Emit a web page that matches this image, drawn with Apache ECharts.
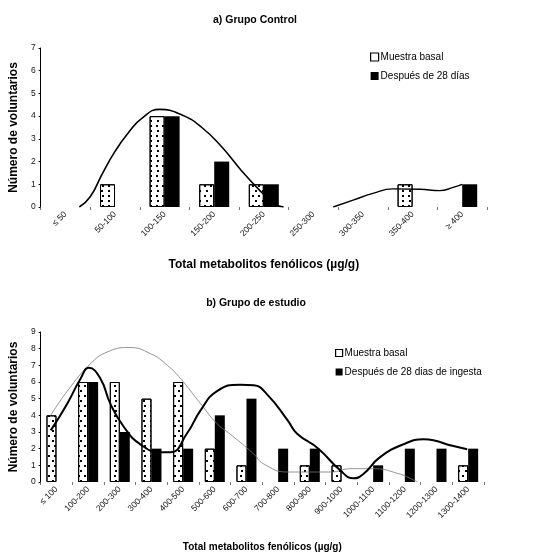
<!DOCTYPE html>
<html><head><meta charset="utf-8">
<script src="https://cdn.jsdelivr.net/npm/echarts@6/dist/echarts.min.js"></script>
<style>html,body{margin:0;padding:0;background:#fff}#c{width:539px;height:553px}</style>
</head><body><div id="c"></div>
<script>
// ---- Chart a) Grupo Control ----
const catsA = ['≤ 50','50-100','100-150','150-200','200-250','250-300','300-350','350-400','≥ 400'];
const basalA = [0,1,4,1,1,0,0,1,0];
const afterA = [0,0,4,2,1,0,0,0,1];
// trend curve (x in category units from left edge, y value)
const curveA1 = [[0.78,0],[1.0,0.45],[1.24,1.45],[1.5,2.45],[1.78,3.3],[2.04,3.9],[2.4,4.3],[2.85,4.05],[3.25,3.5],[3.65,2.65],[4.05,1.6],[4.45,0.66],[4.7,0.15],[4.9,0]];
const curveA2 = [[5.9,0],[6.3,0.3],[6.7,0.6],[7.1,0.8],[7.65,0.78],[8.05,0.72],[8.3,0.85],[8.5,1.0]];
// ---- Chart b) Grupo de estudio ----
const catsB = ['≤ 100','100-200','200-300','300-400','400-500','500-600','600-700','700-800','800-900','900-1000','1000-1100','1100-1200','1200-1300','1300-1400'];
const basalB = [4,6,6,5,6,2,1,0,1,1,0,0,0,1];
const afterB = [0,6,3,2,2,4,5,2,2,0,1,2,2,2];
const curveBbasal = [[0.32,4.0],[0.84,5.45],[1.58,7.1],[2.1,7.8],[2.79,8.07],[3.47,7.7],[4.0,7.0],[4.42,6.2],[5.05,4.7],[5.57,3.5],[6.0,2.85],[6.72,1.7],[7.03,1.1],[7.8,0.6],[9.15,0.6],[9.8,0.8],[10.5,0.8],[11.3,0.5],[11.8,0.1],[11.9,0]];
const curveBafter = [[0.32,3.1],[0.84,4.7],[1.26,6.2],[1.52,6.85],[1.89,6.2],[2.2,4.7],[2.63,3.3],[3.15,2.26],[3.8,1.78],[4.1,1.78],[4.63,2.94],[5.05,4.3],[5.57,5.45],[6.3,5.84],[6.73,5.8],[7.15,5.26],[7.8,3.7],[8.1,2.9],[8.77,2.0],[9.46,0.7],[9.88,0.22],[10.2,0.5],[10.7,1.46],[11.45,2.26],[12.1,2.56],[12.4,2.5],[13.0,2.17],[13.47,1.97]];

const FONT = 'Liberation Sans, Arial, sans-serif';
const dots = {symbol:'rect', symbolSize:1, color:'#000', dashArrayX:[[1.4,3.6],[0,2.5,1.4,1.1]], dashArrayY:[1.4,2.2], rotation:0};
const basalStyle = {color:'#fff', borderColor:'#000', borderWidth:1, decal:dots};
const afterStyle = {color:'#000'};
const legBasal = {color:'#fff', borderColor:'#000', borderWidth:1.2, decal:'none'};
const nz = arr => arr.map(v => v === 0 ? '-' : v);

const chart = echarts.init(document.getElementById('c'), null, {renderer:'canvas'});
function catAxis(cats, gi){
  return {type:'category', gridIndex:gi, data:cats,
    axisLine:{show:false}, axisTick:{show:true, length:3, lineStyle:{color:'#555', width:0.8}},
    axisLabel:{rotate:45, fontSize:8.5, color:'#111', fontFamily:FONT, margin:6, interval:0},
    name:'Total metabolitos fenólicos (µg/g)', nameLocation:'middle',
    nameTextStyle:{fontWeight:'bold', fontSize:gi===0?12:10, color:'#000', fontFamily:FONT}};
}
const xa = catAxis(catsA,0); xa.nameGap = 52;
const xb = catAxis(catsB,1); xb.nameGap = 60;
function valAxis(gi, max){
  return {type:'value', gridIndex:gi, min:0, max:max, interval:1, splitLine:{show:false},
     axisLine:{show:true, lineStyle:{color:'#000', width:1}}, axisTick:{show:true, length:2, lineStyle:{color:'#000'}},
     axisLabel:{fontSize:8.5, color:'#111', fontFamily:FONT, margin:5},
     name:'Número de voluntarios', nameLocation:'middle', nameGap:gi===0?15:17,
     nameTextStyle:{fontWeight:'bold', fontSize:12, color:'#000', fontFamily:FONT}};
}
const lineOpts = {type:'line', smooth:0.5, showSymbol:false, symbol:'none'};
chart.setOption({
  animation:false,
  backgroundColor:'#fff',
  title:[
    {text:'a) Grupo Control', left:250, top:10, textAlign:'center', textStyle:{fontSize:10.5, fontWeight:'bold', color:'#000', fontFamily:FONT}},
    {text:'b) Grupo de estudio', left:251, top:293, textAlign:'center', textStyle:{fontSize:10.5, fontWeight:'bold', color:'#000', fontFamily:FONT}}
  ],
  legend:[
    {data:[{name:'Muestra basal', icon:'rect', itemStyle:legBasal},{name:'Después de 28 días', icon:'rect'}], orient:'vertical', left:365, top:47, itemWidth:8, itemHeight:8, itemGap:9, selectedMode:false,
      textStyle:{fontSize:10, color:'#000', fontFamily:FONT, padding:[0,0,0,-3]}},
    {data:[{name:'Muestra basal ', icon:'rect', itemStyle:legBasal},{name:'Después de 28 dias de ingesta', icon:'rect'}], orient:'vertical', left:330, top:343, itemWidth:7, itemHeight:7, itemGap:9, selectedMode:false,
      textStyle:{fontSize:10, color:'#000', fontFamily:FONT, padding:[0,0,0,-3]}}
  ],
  grid:[
    {left:38, top:48, width:449, height:159},
    {left:40, top:332, width:444, height:155}
  ],
  xAxis:[xa, xb,
    {type:'value', gridIndex:0, min:0, max:9, show:false},
    {type:'value', gridIndex:1, min:0, max:14, show:false}],
  yAxis:[valAxis(0,7), valAxis(1,9)],
  series:[
    {name:'Muestra basal', type:'bar', xAxisIndex:0, yAxisIndex:0, data:nz(basalA), barWidth:15, barGap:'0%', itemStyle:basalStyle},
    {name:'Después de 28 días', type:'bar', xAxisIndex:0, yAxisIndex:0, data:nz(afterA), barWidth:15, barGap:'0%', itemStyle:afterStyle},
    Object.assign({name:'tendA1', xAxisIndex:2, yAxisIndex:0, data:curveA1, lineStyle:{color:'#000', width:1.6}, z:5}, lineOpts),
    Object.assign({name:'tendA2', xAxisIndex:2, yAxisIndex:0, data:curveA2, lineStyle:{color:'#000', width:1.4}, z:5}, lineOpts),
    {name:'Muestra basal ', type:'bar', xAxisIndex:1, yAxisIndex:1, data:nz(basalB), barWidth:10, barGap:'0%', itemStyle:basalStyle},
    {name:'Después de 28 dias de ingesta', type:'bar', xAxisIndex:1, yAxisIndex:1, data:nz(afterB), barWidth:10, barGap:'0%', itemStyle:afterStyle},
    Object.assign({name:'tendB1', xAxisIndex:3, yAxisIndex:1, data:curveBbasal, lineStyle:{color:'#777', width:0.8}, z:5}, lineOpts),
    Object.assign({name:'tendB2', xAxisIndex:3, yAxisIndex:1, data:curveBafter, lineStyle:{color:'#000', width:2}, z:6}, lineOpts)
  ]
});
</script></body></html>
